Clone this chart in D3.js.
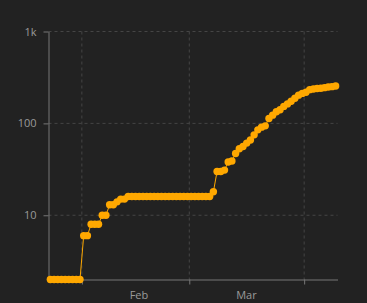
<!DOCTYPE html>
<html><head><meta charset="utf-8">
<script src="https://cdn.jsdelivr.net/npm/d3@7"></script>
<style>
html,body{margin:0;padding:0;background:#222;}
svg{display:block;background:#222;}
</style></head><body>
<svg id="chart" width="367" height="303"></svg>
<script>
// ---- data ----
const startDate = "2020-01-23"; // first day of the series, one value per day
const cases = [
  2,2,2,2,2,2,2,2,2,                       // Jan 23-31
  6,6,8,8,8,10,10,13,13,14,15,15,          // Feb 1-12
  16,16,16,16,16,16,16,16,16,16,16,16,16,16,16,16,16, // Feb 13-29
  16,16,16,16,16,16,18,30,30,31,38,39,47,53,56,61,66,75,85,91,94,
  113,123,134,141,153,163,174,188,203,212, // Mar 1-31
  218,233,237,240,241,245,249,251,255      // Apr 1-9
];
const yTickValues = [10, 100, 1000];
const yTickLabels = ["10", "100", "1k"];
const yDomain = [2, 1000];
const monthTicks = ["2020-02-01", "2020-03-01", "2020-04-01"];
const monthLabels = ["Feb", "Mar"];
const monthLabelDates = ["2020-02-01", "2020-03-01"];

// ---- layout ----
const W = 367, H = 303;
const m = {top: 31.5, right: 29.5, bottom: 23.5, left: 48.5};
const svg = d3.select("#chart");
const parse = d3.utcParse("%Y-%m-%d");
const t0 = parse(startDate);
const data = cases.map((v, i) => ({date: d3.utcDay.offset(t0, i), value: v}));
const tEnd = d3.utcDay.offset(data[data.length - 1].date, 1);

const x = d3.scaleUtc().domain([t0, tEnd]).range([m.left, W - m.right]);
const y = d3.scaleLog().domain(yDomain).range([H - m.bottom, m.top]);
const px = d => x(d3.utcHour.offset(d.date, 12));

const gridColor = "#454545", axisColor = "#777", textColor = "#9a9a9a";
const font = "'Open Sans', 'Liberation Sans', sans-serif";

// grid
const grid = svg.append("g").attr("stroke", gridColor).attr("stroke-dasharray", "3,3").attr("stroke-width", 1);
grid.selectAll("line.h").data(yTickValues).join("line").attr("class", "h")
  .attr("x1", m.left).attr("x2", W - m.right)
  .attr("y1", d => y(d)).attr("y2", d => y(d));
grid.selectAll("line.v").data(monthTicks.map(parse)).join("line").attr("class", "v")
  .attr("x1", d => x(d)).attr("x2", d => x(d))
  .attr("y1", m.top).attr("y2", H - m.bottom);

// y axis
const yAxis = svg.append("g").attr("transform", `translate(${m.left},0)`)
  .call(d3.axisLeft(y).tickValues(yTickValues).tickFormat((d, i) => yTickLabels[i])
    .tickSizeInner(5).tickSizeOuter(0).tickPadding(7));
// x axis
const xAxis = svg.append("g").attr("transform", `translate(0,${H - m.bottom})`)
  .call(d3.axisBottom(x).tickValues(monthTicks.map(parse)).tickFormat("")
    .tickSizeInner(5).tickSizeOuter(0));
[yAxis, xAxis].forEach(g => {
  g.select(".domain").attr("stroke", axisColor);
  g.selectAll(".tick line").attr("stroke", axisColor);
  g.selectAll("text").attr("fill", textColor).style("font-family", font).style("font-size", "11px");
});

// month labels
svg.append("g").selectAll("text").data(monthLabelDates).join("text")
  .attr("x", d => x(d3.utcHour.offset(parse(d), 370)))
  .attr("y", H - m.bottom + 19)
  .attr("text-anchor", "middle")
  .attr("fill", textColor)
  .style("font-family", font).style("font-size", "11px")
  .text((d, i) => monthLabels[i]);

// series
const color = "#ffa800";
svg.append("path").datum(data)
  .attr("fill", "none").attr("stroke", color).attr("stroke-width", 1)
  .attr("d", d3.line().x(px).y(d => y(d.value)));
svg.append("g").selectAll("circle").data(data).join("circle")
  .attr("cx", px).attr("cy", d => y(d.value)).attr("r", 3.7)
  .attr("fill", color);
</script>
</body></html>
